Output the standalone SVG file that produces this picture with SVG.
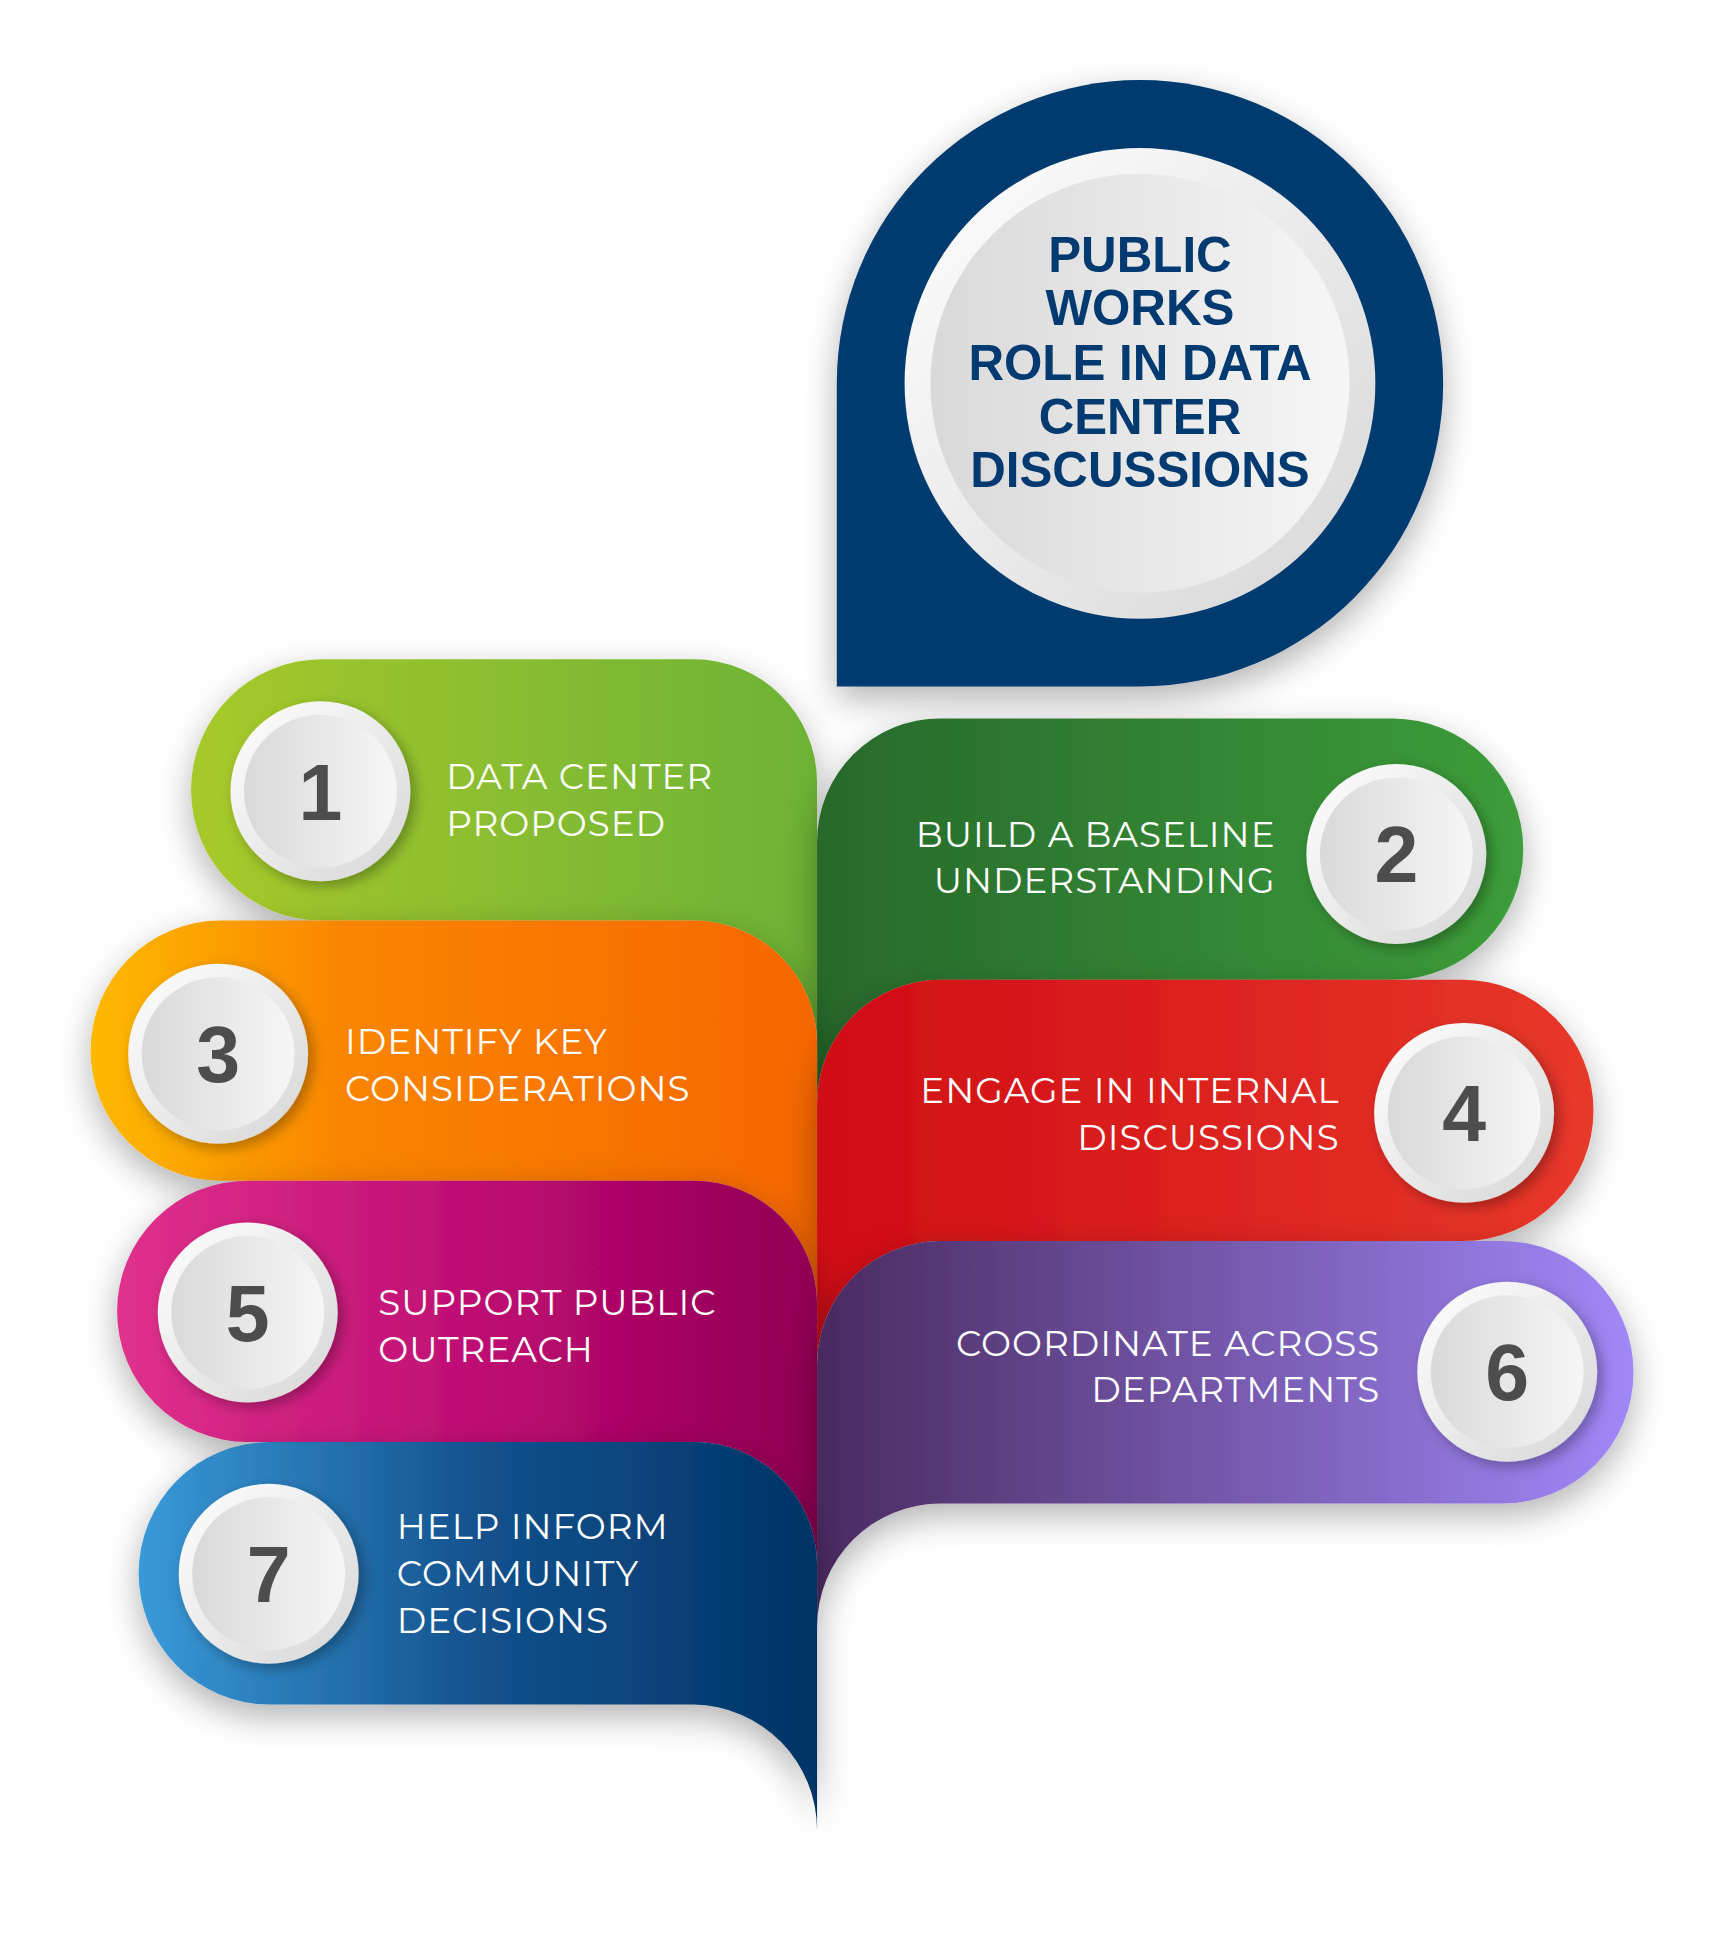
<svg xmlns="http://www.w3.org/2000/svg" width="1713" height="1943" viewBox="0 0 1713 1943">
<defs>
<filter id="sh" x="-20%" y="-20%" width="140%" height="150%"><feDropShadow dx="0" dy="10" stdDeviation="14" flood-color="#000" flood-opacity="0.3"/></filter>
<filter id="sh2" x="-20%" y="-20%" width="140%" height="140%"><feDropShadow dx="4" dy="4" stdDeviation="5" flood-color="#000" flood-opacity="0.3"/></filter>
<linearGradient id="g1"><stop offset="0" stop-color="#a8c92a"/><stop offset="1" stop-color="#6cb236"/></linearGradient>
<linearGradient id="g2"><stop offset="0" stop-color="#28692c"/><stop offset="1" stop-color="#3c9d3a"/></linearGradient>
<linearGradient id="g3"><stop offset="0" stop-color="#fdb900"/><stop offset="0.35" stop-color="#fa8500"/><stop offset="1" stop-color="#f56600"/></linearGradient>
<linearGradient id="g4"><stop offset="0" stop-color="#d00c14"/><stop offset="1" stop-color="#e8382a"/></linearGradient>
<linearGradient id="g5"><stop offset="0" stop-color="#e0318d"/><stop offset="0.6" stop-color="#b8086e"/><stop offset="1" stop-color="#900052"/></linearGradient>
<linearGradient id="g6"><stop offset="0" stop-color="#4a2a60"/><stop offset="1" stop-color="#a088f8"/></linearGradient>
<linearGradient id="g7"><stop offset="0" stop-color="#3a9ad8"/><stop offset="0.5" stop-color="#13528e"/><stop offset="1" stop-color="#003366"/></linearGradient>
<linearGradient id="ring" x1="0" y1="0" x2="1" y2="1"><stop offset="0" stop-color="#ffffff"/><stop offset="1" stop-color="#d6d6d6"/></linearGradient>
<linearGradient id="disk"><stop offset="0" stop-color="#d9d9d9"/><stop offset="1" stop-color="#f6f6f6"/></linearGradient>
<style>
.lbl{font-family:"Montserrat","Liberation Sans",Arial,sans-serif;font-size:29px;fill:#fff;letter-spacing:0.8px}
.num{font-family:"Liberation Sans",Arial,sans-serif;font-weight:bold;font-size:64px;fill:#4d4d4d;text-anchor:middle}
.ttl{font-family:"Liberation Sans",Arial,sans-serif;font-weight:bold;font-size:40px;fill:#003a70;text-anchor:middle}
.e{text-anchor:end}
</style>
</defs>
<rect width="1713" height="1943" fill="#fff"/>
<g transform="scale(1.2324)">
<g id="title">
<path d="M679,557 L679,311 A246,246 0 1 1 925,557 Z" fill="#003a70" filter="url(#sh)"/>
<circle cx="925" cy="311" r="191" fill="url(#ring)"/>
<circle cx="925" cy="311" r="170" fill="url(#disk)"/>
<text class="ttl" x="925" y="221">PUBLIC</text>
<text class="ttl" x="925" y="264">WORKS</text>
<text class="ttl" x="925" y="308">ROLE IN DATA</text>
<text class="ttl" x="925" y="352">CENTER</text>
<text class="ttl" x="925" y="395">DISCUSSIONS</text>
</g>
<g id="step1">
<path d="M261,535 L563,535 A100,100 0 0 1 663,635 L663,847 A100,100 0 0 0 563,747 L261,747 A106,106 0 0 1 261,535 Z" fill="url(#g1)" filter="url(#sh)"/>
<circle cx="260" cy="642" r="73" fill="url(#ring)" filter="url(#sh2)"/><circle cx="260" cy="642" r="62" fill="url(#disk)"/>
<text class="num" x="260" y="665">1</text>
<text class="lbl" x="362" y="640">DATA CENTER</text><text class="lbl" x="362" y="678">PROPOSED</text>
</g>
<g id="step2">
<path d="M663,683 A100,100 0 0 1 763,583 L1130,583 A106,106 0 0 1 1130,795 L763,795 A100,100 0 0 0 663,895 Z" fill="url(#g2)" filter="url(#sh)"/>
<circle cx="1133" cy="693" r="73" fill="url(#ring)" filter="url(#sh2)"/><circle cx="1133" cy="693" r="62" fill="url(#disk)"/>
<text class="num" x="1133" y="716">2</text>
<text class="lbl e" x="1035" y="687">BUILD A BASELINE</text><text class="lbl e" x="1035" y="725">UNDERSTANDING</text>
</g>
<g id="step3">
<path d="M179,747 L563,747 A100,100 0 0 1 663,847 L663,1058 A100,100 0 0 0 563,958 L179,958 A105.5,105.5 0 0 1 179,747 Z" fill="url(#g3)" filter="url(#sh)"/>
<circle cx="177" cy="855" r="73" fill="url(#ring)" filter="url(#sh2)"/><circle cx="177" cy="855" r="62" fill="url(#disk)"/>
<text class="num" x="177" y="878">3</text>
<text class="lbl" x="280" y="855">IDENTIFY KEY</text><text class="lbl" x="280" y="893">CONSIDERATIONS</text>
</g>
<g id="step4">
<path d="M663,895 A100,100 0 0 1 763,795 L1187,795 A106,106 0 0 1 1187,1007 L763,1007 A100,100 0 0 0 663,1107 Z" fill="url(#g4)" filter="url(#sh)"/>
<circle cx="1188" cy="903" r="73" fill="url(#ring)" filter="url(#sh2)"/><circle cx="1188" cy="903" r="62" fill="url(#disk)"/>
<text class="num" x="1188" y="926">4</text>
<text class="lbl e" x="1087" y="895">ENGAGE IN INTERNAL</text><text class="lbl e" x="1087" y="933">DISCUSSIONS</text>
</g>
<g id="step5">
<path d="M201,958 L563,958 A100,100 0 0 1 663,1058 L663,1270 A100,100 0 0 0 563,1170 L201,1170 A106,106 0 0 1 201,958 Z" fill="url(#g5)" filter="url(#sh)"/>
<circle cx="201" cy="1065" r="73" fill="url(#ring)" filter="url(#sh2)"/><circle cx="201" cy="1065" r="62" fill="url(#disk)"/>
<text class="num" x="201" y="1088">5</text>
<text class="lbl" x="307" y="1067">SUPPORT PUBLIC</text><text class="lbl" x="307" y="1105">OUTREACH</text>
</g>
<g id="step6">
<path d="M663,1107 A100,100 0 0 1 763,1007 L1219,1007 A106.5,106.5 0 0 1 1219,1220 L763,1220 A100,100 0 0 0 663,1320 Z" fill="url(#g6)" filter="url(#sh)"/>
<circle cx="1223" cy="1113" r="73" fill="url(#ring)" filter="url(#sh2)"/><circle cx="1223" cy="1113" r="62" fill="url(#disk)"/>
<text class="num" x="1223" y="1136">6</text>
<text class="lbl e" x="1120" y="1100">COORDINATE ACROSS</text><text class="lbl e" x="1120" y="1138">DEPARTMENTS</text>
</g>
<g id="step7">
<path d="M219,1170 L563,1170 A100,100 0 0 1 663,1270 L663,1485 A102,102 0 0 0 563,1383 L219,1383 A106.5,106.5 0 0 1 219,1170 Z" fill="url(#g7)" filter="url(#sh)"/>
<circle cx="218" cy="1277" r="73" fill="url(#ring)" filter="url(#sh2)"/><circle cx="218" cy="1277" r="62" fill="url(#disk)"/>
<text class="num" x="218" y="1300">7</text>
<text class="lbl" x="322" y="1249">HELP INFORM</text><text class="lbl" x="322" y="1287">COMMUNITY</text><text class="lbl" x="322" y="1325">DECISIONS</text>
</g>
<g id="connectors"/>
</g>
</svg>
